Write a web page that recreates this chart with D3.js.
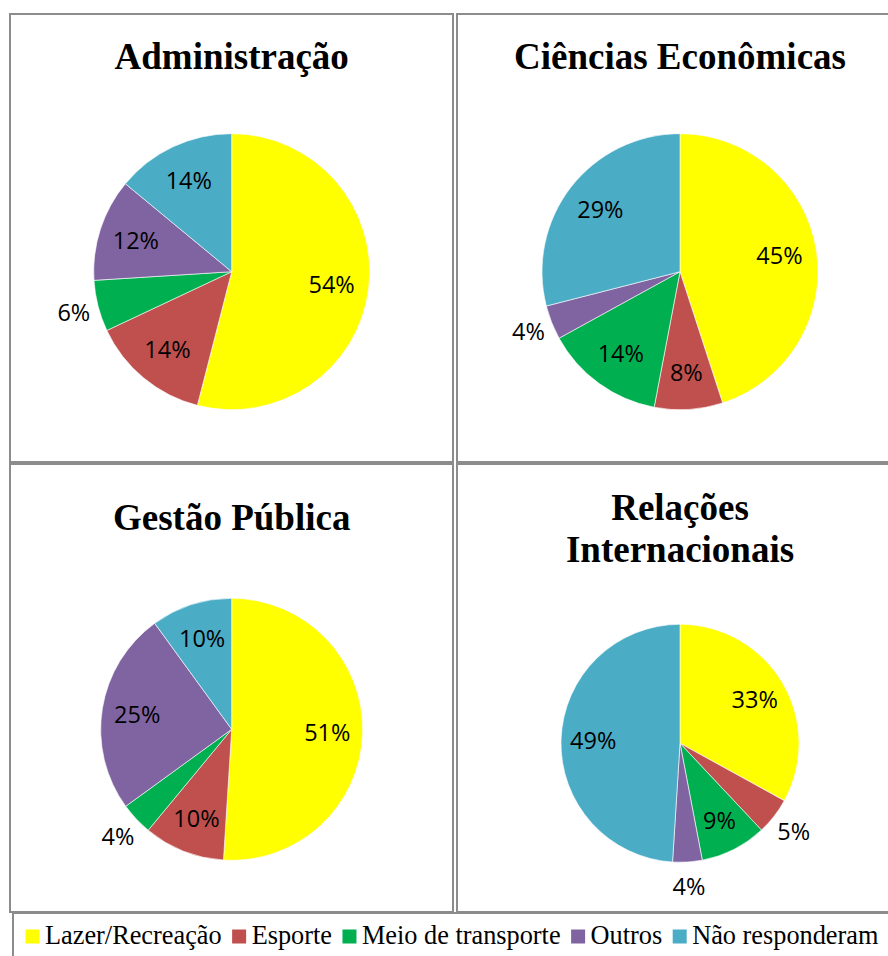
<!DOCTYPE html>
<html>
<head>
<meta charset="utf-8">
<script src="https://cdn.jsdelivr.net/npm/d3@7"></script>
<style>
  html, body { margin: 0; padding: 0; background: #ffffff; overflow: hidden; }
  svg { display: block; }
</style>
</head>
<body>
<svg id="chart" width="888" height="956"></svg>
<script>
// ---- Data ----
const categories = ["Lazer/Recreação", "Esporte", "Meio de transporte", "Outros", "Não responderam"];
const courses = ["Administração", "Ciências Econômicas", "Gestão Pública", "Relações Internacionais"];
const administracao = [54, 14, 6, 12, 14];
const cienciasEconomicas = [45, 8, 14, 4, 29];
const gestaoPublica = [51, 10, 4, 25, 10];
const relacoesInternacionais = [33, 5, 9, 4, 49];
const seriesValues = [administracao, cienciasEconomicas, gestaoPublica, relacoesInternacionais];

// ---- Styles / layout ----
const colors = ["#FFFF00", "#C0504D", "#00B050", "#8064A2", "#4BACC6"];
const color = d3.scaleOrdinal().domain(categories).range(colors);
const borderColor = "#8c8c8c";

const panels = [
  { x: 10,  y: 14,  w: 443, h: 448, cx: 231.7, cy: 271.7, r: 138, titleLines: ["Administração"], titleY: [69] },
  { x: 457, y: 14,  w: 480, h: 448, cx: 680,   cy: 271.7, r: 138, titleLines: ["Ciências Econômicas"], titleY: [69] },
  { x: 10,  y: 464, w: 443, h: 448, cx: 231.7, cy: 729.3, r: 131, titleLines: ["Gestão Pública"], titleY: [530] },
  { x: 457, y: 464, w: 480, h: 448, cx: 680,   cy: 743.3, r: 119, titleLines: ["Relações", "Internacionais"], titleY: [519.5, 561.5] }
];

const svg = d3.select("#chart");

const pie = d3.pie().sort(null).value(d => d.value).startAngle(0).endAngle(2 * Math.PI);

panels.forEach((p, i) => {
  const g = svg.append("g");
  g.append("rect")
    .attr("x", p.x).attr("y", p.y).attr("width", p.w).attr("height", p.h)
    .attr("fill", "none").attr("stroke", borderColor).attr("stroke-width", 2);

  g.selectAll("text.title").data(p.titleLines).join("text")
    .attr("class", "title")
    .attr("x", p.cx)
    .attr("y", (d, k) => p.titleY[k])
    .attr("text-anchor", "middle")
    .attr("font-family", "'Liberation Serif', 'Times New Roman', serif")
    .attr("font-weight", "bold")
    .attr("font-size", "37px")
    .attr("fill", "#000")
    .text(d => d);

  const data = categories.map((c, k) => ({ category: c, value: seriesValues[i][k] }));
  const arcs = pie(data);
  const arc = d3.arc().innerRadius(0).outerRadius(p.r);

  const pg = g.append("g").attr("transform", `translate(${p.cx},${p.cy})`);
  pg.selectAll("path").data(arcs).join("path")
    .attr("d", arc)
    .attr("fill", d => color(d.data.category))
    .attr("stroke", "#ffffff")
    .attr("stroke-width", 0.6);

  const inside = d3.arc().innerRadius(p.r * 0.73).outerRadius(p.r * 0.73);
  const outside = d3.arc().innerRadius(p.r + 25).outerRadius(p.r + 25);

  pg.selectAll("text.lbl").data(arcs).join("text")
    .attr("class", "lbl")
    .attr("transform", d => {
      const c = (d.data.value <= 6 ? outside : inside).centroid(d);
      return `translate(${c[0]},${c[1]})`;
    })
    .attr("text-anchor", "middle")
    .attr("dy", "0.36em")
    .attr("font-family", "'Open Sans', 'Noto Sans', sans-serif")
    .attr("font-size", "23.5px")
    .attr("fill", "#000")
    .text(d => d.data.value + "%");
});

// ---- Legend ----
const lg = svg.append("g");
lg.append("rect")
  .attr("x", 13).attr("y", 913).attr("width", 940).attr("height", 80)
  .attr("fill", "none").attr("stroke", borderColor).attr("stroke-width", 2);

let lx = 25.5;
const sq = 14, sqY = 929.5, textY = 944;
categories.forEach(c => {
  lg.append("rect")
    .attr("x", lx).attr("y", sqY).attr("width", sq).attr("height", sq)
    .attr("fill", color(c));
  const t = lg.append("text")
    .attr("x", lx + sq + 5.5)
    .attr("y", textY)
    .attr("font-family", "'Liberation Serif', 'Times New Roman', serif")
    .attr("font-size", "26.3px")
    .attr("fill", "#000")
    .text(c);
  const w = t.node().getComputedTextLength();
  lx = lx + sq + 5.5 + w + 10.5;
});
</script>
</body>
</html>
